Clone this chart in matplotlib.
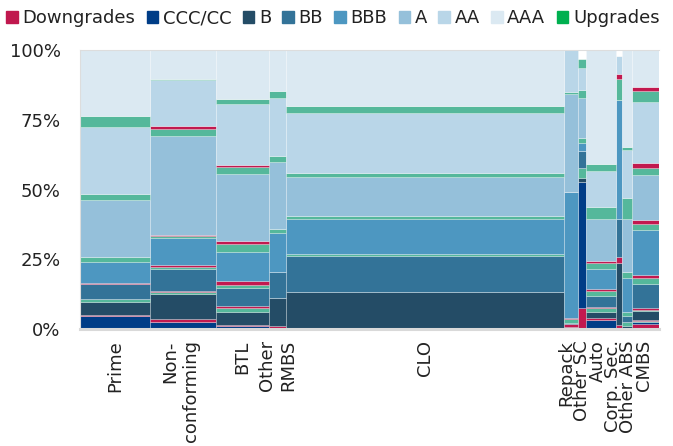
import matplotlib
matplotlib.use("Agg")
import matplotlib.pyplot as plt
import matplotlib.transforms as mtransforms
from matplotlib.patches import Patch
import numpy as np

categories = ['Prime', 'Non-\nconforming', 'BTL', 'Other\nRMBS', 'CLO', 'Repack',
              'Other SC', 'Auto', 'Corp. Sec.', 'Other ABS', 'CMBS']
# share of outstanding, used as bar widths (%)
widths = [12.1, 11.35, 9.26, 2.88, 48.0, 2.37, 1.43, 5.18, 1.09, 1.68, 4.66]

# per rating, bottom to top: downgrades, stable, upgrades (% of each bar)
ccc_down = [0, 0, 0, 0, 0, 0, 7.4, 0, 0, 0, 1.8]
ccc = [4.8, 2.4, 1.0, 0, 0, 0, 45.4, 3.1, 0, 0, 0.6]
ccc_up = [0, 0, 0, 0, 0, 0, 0, 0, 0, 0, 0.3]
b_down = [0.3, 1.2, 0.3, 1.1, 0, 0, 0, 0.7, 1.5, 0, 0.5]
b = [4.5, 9.1, 4.8, 10.1, 13.1, 0.8, 1.5, 2.4, 22.2, 1.1, 3.2]
b_up = [1.2, 0.5, 1.6, 0, 0, 0, 3.3, 1.2, 0, 1.5, 0.5]
bb_down = [0, 0.6, 0.7, 0, 0, 0.9, 0, 0.6, 2.0, 0, 0.5]
bb = [5.4, 7.7, 6.3, 9.3, 13.1, 0.6, 6.2, 3.9, 13.8, 2.2, 8.7]
bb_up = [0, 0.6, 0.9, 0, 0.6, 1.2, 0, 1.8, 0, 1.4, 2.1]
bbb_down = [0.3, 0.7, 1.6, 0, 0, 0.6, 0, 0.6, 0, 0, 1.2]
bbb = [7.5, 9.8, 10.5, 13.8, 12.6, 45.1, 3.0, 7.2, 42.4, 12.0, 16.1]
bbb_up = [1.7, 0.6, 2.6, 1.5, 1.1, 0, 1.6, 2.0, 0, 2.1, 2.0]
a_down = [0, 0.6, 1.2, 0, 0, 0, 0, 0.9, 0, 0, 1.6]
a = [20.6, 35.5, 23.9, 24.2, 13.9, 35.0, 14.3, 15.0, 0, 19.1, 16.1]
a_up = [2.1, 2.4, 2.7, 2.0, 1.4, 0.9, 3.0, 4.4, 7.7, 7.4, 2.4]
aa_down = [0, 0.9, 0.6, 0, 0, 0, 0, 0, 1.8, 0, 1.8]
aa = [23.9, 16.5, 21.8, 20.9, 21.5, 14.9, 7.7, 12.8, 6.4, 17.4, 21.8]
aa_up = [3.9, 0.5, 1.8, 2.4, 2.7, 0, 3.3, 2.4, 0, 1.2, 4.2]
aaa_down = [0, 0, 0, 0, 0, 0, 0, 0, 0, 0, 1.2]
aaa = [23.8, 10.4, 17.6, 14.7, 20.0, 0, 0, 41.0, 0, 34.6, 13.4]

ratings = ['CCC/CC', 'B', 'BB', 'BBB', 'A', 'AA', 'AAA']
rating_colors = ['#003D87', '#244C66', '#337398', '#4D97C1',
                 '#95C0DA', '#B9D6E8', '#DBE9F2']
down_color = '#C2194F'
up_color = '#55B89B'

# small horizontal nudges (points) so the narrow-bar labels don't collide
label_nudge = [0, -1.5, 0, 0, 0, -3.2, 0, -2.2, -4.6, 0.7, -1.1]

stack = [
    (ccc_down, down_color), (ccc, rating_colors[0]), (ccc_up, up_color),
    (b_down, down_color), (b, rating_colors[1]), (b_up, up_color),
    (bb_down, down_color), (bb, rating_colors[2]), (bb_up, up_color),
    (bbb_down, down_color), (bbb, rating_colors[3]), (bbb_up, up_color),
    (a_down, down_color), (a, rating_colors[4]), (a_up, up_color),
    (aa_down, down_color), (aa, rating_colors[5]), (aa_up, up_color),
    (aaa_down, down_color), (aaa, rating_colors[6]),
]

plt.rcParams['font.family'] = ['DejaVu Sans']
plt.rcParams['font.size'] = 13

fig = plt.figure(figsize=(6.73, 4.46), dpi=100)
ax = fig.add_axes([0.1189, 0.2623, 0.8603, 0.6256])

w = np.array(widths)
left = np.cumsum(w) - w
bottom = np.zeros(len(w))
for vals, col in stack:
    vals = np.array(vals, dtype=float)
    ax.bar(left, vals, width=w, bottom=bottom, align='edge', color=col,
           edgecolor=(1, 1, 1, 0.35), linewidth=0.5)
    bottom += vals

ax.set_xlim(0, 100)
ax.set_ylim(0, 100)
ax.set_yticks([0, 25, 50, 75, 100])
ax.set_yticklabels(['0%', '25%', '50%', '75%', '100%'], color='#222222')
ax.set_xticks(left + w / 2)
ax.set_xticklabels(categories, rotation=90, va='top', ha='center',
                   multialignment='right', color='#222222')
ax.tick_params(axis='both', length=0)
ax.tick_params(axis='y', pad=14)
ax.tick_params(axis='x', pad=8)

for lbl, dx in zip(ax.get_xticklabels(), label_nudge):
    shift = mtransforms.ScaledTranslation(dx / 72, 0, fig.dpi_scale_trans)
    lbl.set_transform(lbl.get_transform() + shift)

for side in ['top', 'left']:
    ax.spines[side].set_color('#DDDDDD')
    ax.spines[side].set_linewidth(0.8)
ax.spines['bottom'].set_color('#D9D9D9')
ax.spines['bottom'].set_linewidth(2.2)
ax.spines['right'].set_visible(False)

handles = [Patch(color='#C0184E', label='Downgrades')]
handles += [Patch(color=c, label=r) for r, c in zip(ratings, rating_colors)]
handles += [Patch(color='#00B050', label='Upgrades')]
fig.legend(handles=handles, loc='upper left', bbox_to_anchor=(0.0, 0.993),
           ncol=9, frameon=False, handlelength=0.65, handleheight=0.65,
           handletextpad=0.25, columnspacing=0.62, borderpad=0.25,
           borderaxespad=0.1, labelcolor='#222222')

fig.savefig('out.png', dpi=100)
